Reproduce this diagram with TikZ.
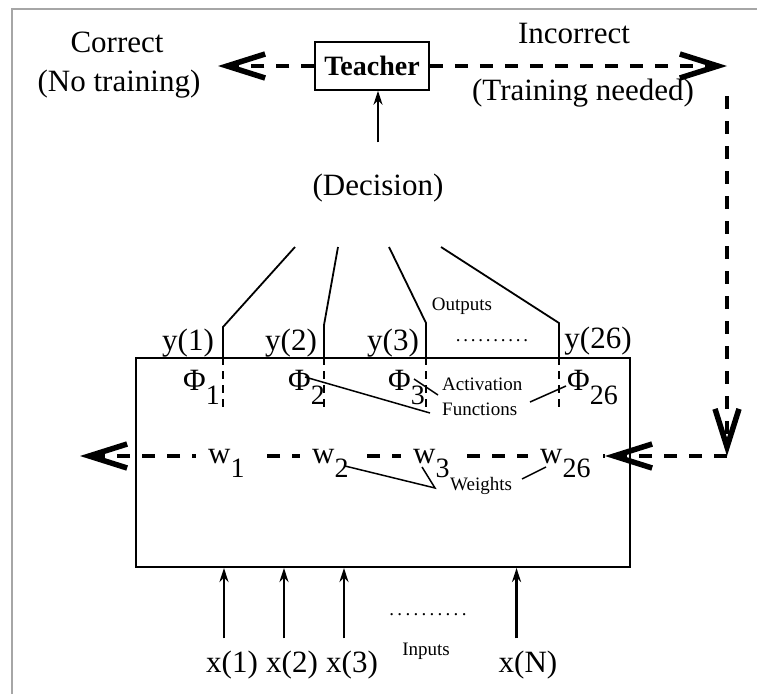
\documentclass[tikz,border=0pt]{standalone}
\usepackage{fontspec}
\setmainfont{Liberation Serif}
\usetikzlibrary{arrows.meta,positioning}

\newcommand{\bigtxt}{\fontsize{31}{34}\selectfont}
\newcommand{\smalltxt}{\fontsize{19}{21}\selectfont}
\newcommand{\lowsub}[1]{\raisebox{-14pt}{\fontsize{28}{28}\selectfont #1}}
\newcommand{\dotrow}[1]{\makebox[#1]{\xleaders\hbox to 7.4pt{\hss.\hss}\hfill}}

\begin{document}
\begin{tikzpicture}[x=1pt, y=-1pt,
  bigtext/.style={font=\bigtxt, inner sep=0pt, anchor=base},
  smalltag/.style={font=\smalltxt, inner sep=0pt, anchor=base west},
  weightlbl/.style={font=\bigtxt, anchor=base west, fill=white, inner xsep=12pt, inner ysep=3pt},
  teacherbox/.style={draw, line width=1.5pt, minimum width=114pt, minimum height=48pt, inner sep=0pt, font=\fontsize{28}{30}\selectfont\bfseries},
  netbox/.style={draw, line width=2pt, minimum width=494pt, minimum height=209pt, inner sep=0pt},
  feedback/.style={line width=4pt, dash pattern=on 13pt off 12pt, -{Straight Barb[length=38pt,width=24pt,line width=5.5pt]}},
  wire/.style={line width=1.8pt},
  pointer/.style={line width=1.5pt},
  phidash/.style={line width=1.5pt, dash pattern=on 8pt off 6pt},
  inarrow/.style={line width=2.2pt, -{Stealth[length=14pt,width=9pt]}},
  frame/.style={line width=1.5pt, gray!70},
]
  \useasboundingbox (0,0) rectangle (757,694);
  \draw[frame] (12,694) -- (12,9) -- (757,9);

  % Teacher and decision
  \node[teacherbox] (teacher) at (372,66) {Teacher};
  \node[bigtext] (decision) at (378,195) {(Decision)};
  \draw[inarrow, shorten <=31pt] (decision.north) -- (decision.north |- teacher.south);

  \node[bigtext] (correct) at (117,52) {Correct};
  \node[bigtext] (notrain) at (119,91) {(No training)};
  \node[bigtext] (incorrect) at (574,43) {Incorrect};
  \node[bigtext] (needed) at (583,100) {(Training needed)};

  % Network box
  \node[netbox] (net) at (383,462.5) {};

  % Outputs
  \coordinate (o1) at (295,247); \coordinate (b1) at (223,327);
  \coordinate (o2) at (338,247); \coordinate (b2) at (324,325);
  \coordinate (o3) at (389,247); \coordinate (b3) at (426,323);
  \coordinate (o4) at (441,247); \coordinate (b4) at (559,323);
  \foreach \i in {1,...,4} {
    \draw[wire] (o\i) -- (b\i) -- (b\i |- net.north);
    \draw[phidash] (b\i |- net.north) -- ++(0,52);
  }
  \node[bigtext] (y1) at (188,350) {y(1)};
  \node[bigtext] (y2) at (291,350) {y(2)};
  \node[bigtext] (y3) at (393,350) {y(3)};
  \node[bigtext] (y26) at (598,348) {y(26)};
  \node[font=\smalltxt, inner sep=0pt] (outdots) at (492,341) {\dotrow{75pt}};
  \node[smalltag, anchor=base] (outputs) at (462,310) {Outputs};

  % Activation functions
  \node[bigtext, anchor=base west] (phi1) at (183,390) {Φ\lowsub{1}};
  \node[bigtext, anchor=base west] (phi2) at (288,390) {Φ\lowsub{2}};
  \node[bigtext, anchor=base west] (phi3) at (388,390) {Φ\lowsub{3}};
  \node[bigtext, anchor=base west] (phi26) at (567,390) {Φ\lowsub{26}};
  \node[smalltag] (activ) at (442,390) {Activation};
  \node[smalltag] (funcs) at (442,415) {Functions};
  \coordinate (pa) at (305,377); \coordinate (pb) at (430,413);
  \coordinate (pc) at (414,379); \coordinate (pd) at (438,395);
  \coordinate (pe) at (530,402); \coordinate (pf) at (566,386);
  \draw[pointer] (pa) -- (pb);
  \draw[pointer] (pc) -- (pd);
  \draw[pointer] (pe) -- (pf);

  % Feedback paths
  \coordinate (tipL) at (218,66);
  \coordinate (cTR) at (727,66);
  \coordinate (cBR) at (727,456);
  \coordinate (wR) at (605,456);
  \coordinate (tipW) at (80,456);
  \draw[feedback] (teacher.west) -- (tipL);
  \draw[feedback] (teacher.east) -- (cTR);
  \draw[feedback, shorten <=30pt] (cTR) -- (cBR);
  \draw[feedback] (cBR) -- (wR);
  \draw[feedback] (wR) -- (tipW);

  % Weights
  \node[weightlbl] (w1) at (196,463) {w\lowsub{1}};
  \node[weightlbl] (w2) at (300,463) {w\lowsub{2}};
  \node[weightlbl] (w3) at (401,463) {w\lowsub{3}};
  \node[weightlbl] (w26) at (528,463) {w\lowsub{26}};
  \node[smalltag] (weights) at (450,490) {Weights};
  \coordinate (wv) at (435,488);
  \draw[pointer] (345,466) -- (wv) -- (422,467);
  \draw[pointer] (522,479) -- (546,467);

  % Inputs
  \node[bigtext] (x1) at (232,672) {x(1)};
  \node[bigtext] (x2) at (292,672) {x(2)};
  \node[bigtext] (x3) at (352,672) {x(3)};
  \node[bigtext] (xN) at (528,672) {x(N)};
  \foreach \n in {x1,x2,x3,xN}
    \draw[inarrow] ([xshift=18pt,yshift=12pt]\n.north west) coordinate (s) -- (s |- net.south);
  \node[font=\smalltxt, inner sep=0pt] (indots) at (428,615) {\dotrow{81pt}};
  \node[smalltag, anchor=base] (inputs) at (426,655) {Inputs};
\end{tikzpicture}
\end{document}
